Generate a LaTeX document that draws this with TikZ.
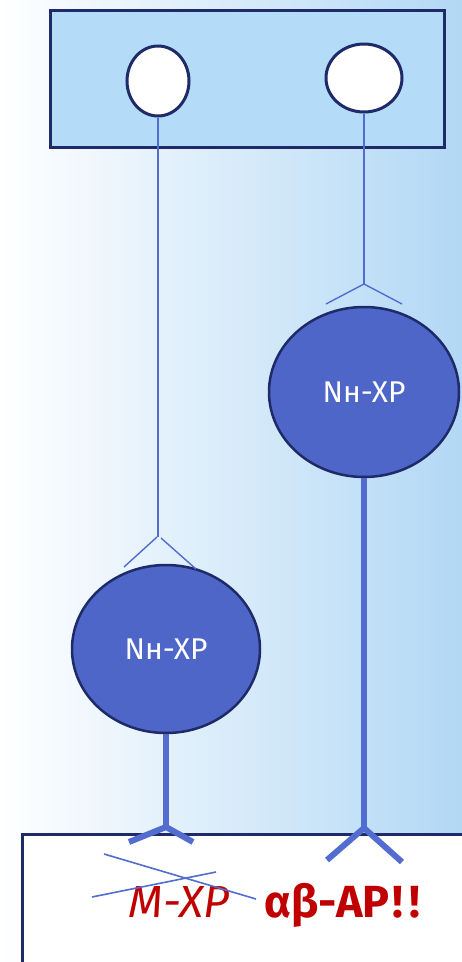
\documentclass[tikz,border=0pt]{standalone}
\usepackage{fontspec}
\setmainfont{Fira Sans}
\usetikzlibrary{shapes.geometric}
\definecolor{navy}{RGB}{31,42,104}
\definecolor{ballblue}{RGB}{78,102,200}
\definecolor{linkblue}{RGB}{82,108,208}
\definecolor{paleblue}{RGB}{180,220,248}
\definecolor{skyblue}{RGB}{178,216,245}
\definecolor{midblue}{RGB}{218,236,251}
\definecolor{textred}{RGB}{192,0,0}
\tikzset{
  frame/.style={draw=navy, line width=3pt},
  hole/.style={ellipse, draw=navy, line width=3pt, fill=white, inner sep=0pt},
  ball/.style={ellipse, draw=navy, line width=2.5pt, fill=ballblue, inner sep=0pt,
    text=white, font=\fontsize{30}{32}\selectfont},
  thin link/.style={draw=linkblue, line width=1.4pt},
  thick link/.style={draw=linkblue, line width=6pt},
  strike/.style={draw=linkblue, line width=1.6pt}
}
\begin{document}
\begin{tikzpicture}[x=1pt,y=-1pt]
  % background
  \useasboundingbox (0,0) rectangle (462,962);
  \shade[left color=white, middle color=midblue, right color=skyblue] (0,0) rectangle (462,962);

  % top block with two sockets
  \node[frame, fill=paleblue, minimum width=394pt, minimum height=137pt, inner sep=0pt,
        anchor=north west] (top) at (49,9) {};
  \node[hole, minimum width=62pt, minimum height=70pt] (hl) at (158,81) {};
  \node[hole, minimum width=76pt, minimum height=68pt] (hr) at (364,78) {};

  % two heads
  \node[ball, minimum width=190pt, minimum height=170pt] (br) at (364,392) {Nн-XP};
  \node[ball, minimum width=188pt, minimum height=168pt] (bl) at (166,649) {Nн-XP};

  % bottom block
  \node[frame, fill=white, minimum width=460pt, minimum height=150pt, inner sep=0pt,
        anchor=north west] (bottom) at (21,833) {};

  % thin stems with forks
  \coordinate (fl) at (158,537);
  \coordinate (fr) at (364,284);
  \draw[thin link] (hl.south) -- (fl);
  \draw[thin link] (hr.south) -- (fr);
  \draw[thin link] (124,567) -- (157,537);
  \draw[thin link] (161,538) -- (196,569);
  \draw[thin link] (326,304) -- (fr) -- (402,304);

  % thick stems with forks
  \coordinate (gl) at (166,827);
  \coordinate (gr) at (364,828);
  \draw[thick link] (bl.south) -- (gl);
  \draw[thick link] (br.south) -- (gr);
  \draw[thick link] (129,842) -- (gl) -- (193,842);
  \draw[thick link] (327,860) -- (gr) -- (402,862);

  % labels in the bottom block
  \node[text=textred, font=\fontsize{45}{48}\selectfont\itshape, anchor=base, inner sep=0pt] (mxp) at (179,917) {M-XP};
  \node[text=textred, font=\fontsize{45}{48}\selectfont\bfseries, anchor=base west, inner sep=0pt] (ab) at (264,917) {αβ-AP\kern3pt\mbox{!}\kern6pt\mbox{!}};
  \coordinate (s1a) at (104,854);
  \coordinate (s1b) at (256,899);
  \coordinate (s2a) at (92,897);
  \coordinate (s2b) at (216,872);
  \draw[strike] (s1a) -- (s1b);
  \draw[strike] (s2a) -- (s2b);
\end{tikzpicture}
\end{document}
